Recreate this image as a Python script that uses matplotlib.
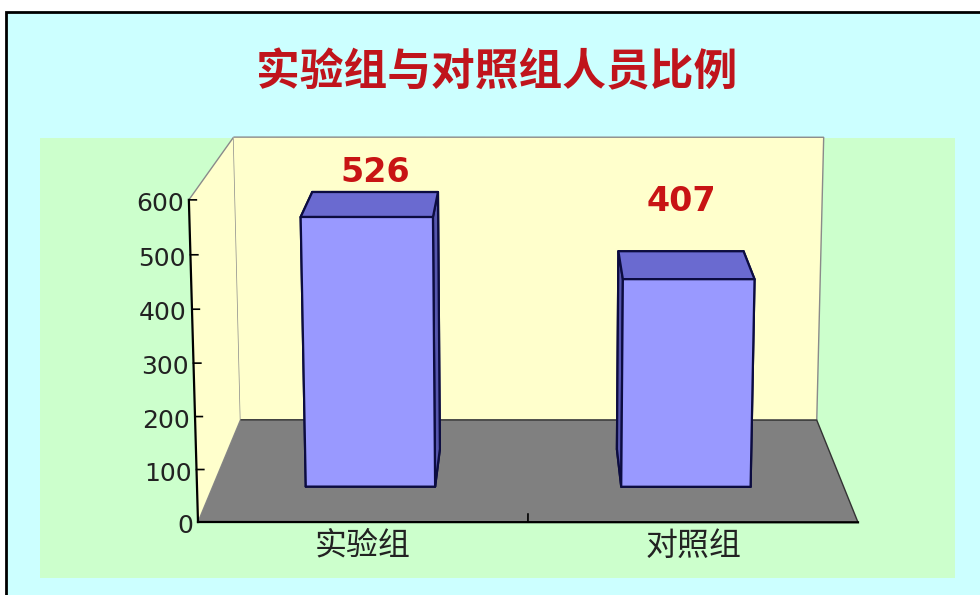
import numpy as np
import matplotlib.pyplot as plt
from matplotlib.patches import Rectangle
from mpl_toolkits.mplot3d import proj3d

# data
categories = ['实验组', '对照组']
counts = [526, 407]
value_ticks = [0, 100, 200, 300, 400, 500, 600]
title = '实验组与对照组人员比例'

W, H = 980, 595
fig = plt.figure(figsize=(W / 100, H / 100), dpi=100)
fig.patch.set_facecolor('white')

# cyan frame and green plot area behind the 3d axes
fig.add_artist(Rectangle((6 / W, -0.05), 1.1, (H - 12) / H + 0.05, transform=fig.transFigure,
                         facecolor='#CCFFFF', edgecolor='black', lw=2, zorder=-3))
fig.add_artist(Rectangle((40 / W, 17 / H), 915 / W, 440 / H, transform=fig.transFigure,
                         facecolor='#CCFFCC', edgecolor='none', zorder=-2))

fig.text(497 / W, 1 - 72 / H, title, ha='center', va='center', fontsize=31.5,
         color='#C0141C', fontweight='bold', family=['Noto Sans CJK SC', 'DejaVu Sans'])

ax = fig.add_axes([0, 0, 1, 1], projection='3d')
ax.patch.set_visible(False)
ax.set_proj_type('persp', focal_length=0.644)
ax.view_init(elev=12.7, azim=-89.9)
ax.set_box_aspect((660, 398, 327))
n = len(counts)
ax.set_xlim(0, n)
ax.set_ylim(0, 1)
ax.set_zlim(0, value_ticks[-1])
ax.grid(False)

# walls and floor
ax.xaxis.set_pane_color('#FFFFCC')
ax.yaxis.set_pane_color('#FFFFCC')
ax.zaxis.set_pane_color('#808080')
ax.xaxis.pane.set_edgecolor('#8a8a8a')
ax.yaxis.pane.set_edgecolor('#8a8a8a')
ax.zaxis.pane.set_edgecolor('#333333')

# bars
bar_w, bar_y, bar_d = 0.41, 0.317, 0.37
xs = np.arange(n) + 0.5 - bar_w / 2
faces = ['#9999FF', '#6A6AD0', '#9999FF', '#9999FF', '#5656AE', '#5656AE']
ax.bar3d(xs, [bar_y] * n, [0] * n, bar_w, bar_d, counts, color=faces * n,
         shade=False, edgecolor='#0C0C40', linewidth=1.6)

# axes
ax.set_xticks(np.arange(n) + 0.5)
ax.set_xticklabels(categories, fontsize=23, color='#222222',
                   family=['Noto Sans CJK SC', 'DejaVu Sans'])
ax.set_yticks([])
ax.set_zticks(value_ticks)
ax.set_zticklabels([])
ax.zaxis.set_ticks_position('lower')
ax.yaxis.line.set_color((0, 0, 0, 0))
ax.xaxis.line.set_color('black')
ax.zaxis.line.set_color('black')
ax.xaxis.line.set_linewidth(1.6)
ax.zaxis.line.set_linewidth(1.6)
for a in (ax.xaxis, ax.zaxis):
    a._axinfo['tick']['inward_factor'] = 0
    a._axinfo['tick']['outward_factor'] = 0
ax.tick_params(axis='x', pad=-3)

# tick marks: one between the categories on the floor, short ones on the value axis
ax.plot([n / 2, n / 2], [0, 0.07], [0, 0], color='black', lw=1.2)
for v in value_ticks:
    ax.plot([0, 0.022], [0, 0], [v, v], color='black', lw=1.2)

# place the 3d box so that the front floor edge sits where it does in the picture
fig.canvas.draw()


def to_frac(x, y, z):
    px, py, _ = proj3d.proj_transform(x, y, z, ax.get_proj())
    dx, dy = ax.transData.transform((px, py))
    bb = ax.bbox
    return (dx - bb.x0) / bb.width, (dy - bb.y0) / bb.height


fl = to_frac(0, 0, 0)
fr = to_frac(n, 0, 0)
size = (858 - 198) / (fr[0] - fl[0])
left = 198 - fl[0] * size
bottom = (H - 522) - fl[1] * size
ax.set_position([left / W, bottom / H, size / W, size / H])

M = ax.get_proj()

# value axis labels
for v in value_ticks:
    px, py, _ = proj3d.proj_transform(0, 0, v, M)
    ax.annotate(str(v), (px, py), xytext=(-5, -4), textcoords='offset pixels',
                ha='right', va='center', fontsize=18, color='#222222')

# value labels above the bars (the original puts them at uneven heights)
label_lift = [10, 40]
for i, v in enumerate(counts):
    px, py, _ = proj3d.proj_transform(i + 0.5, bar_y + bar_d, v, M)
    ax.annotate(str(v), (px, py), xytext=(0, label_lift[i]), textcoords='offset pixels',
                ha='center', va='baseline', fontsize=24, fontweight='bold', color='#C81414')

fig.savefig('out.png', dpi=100)
